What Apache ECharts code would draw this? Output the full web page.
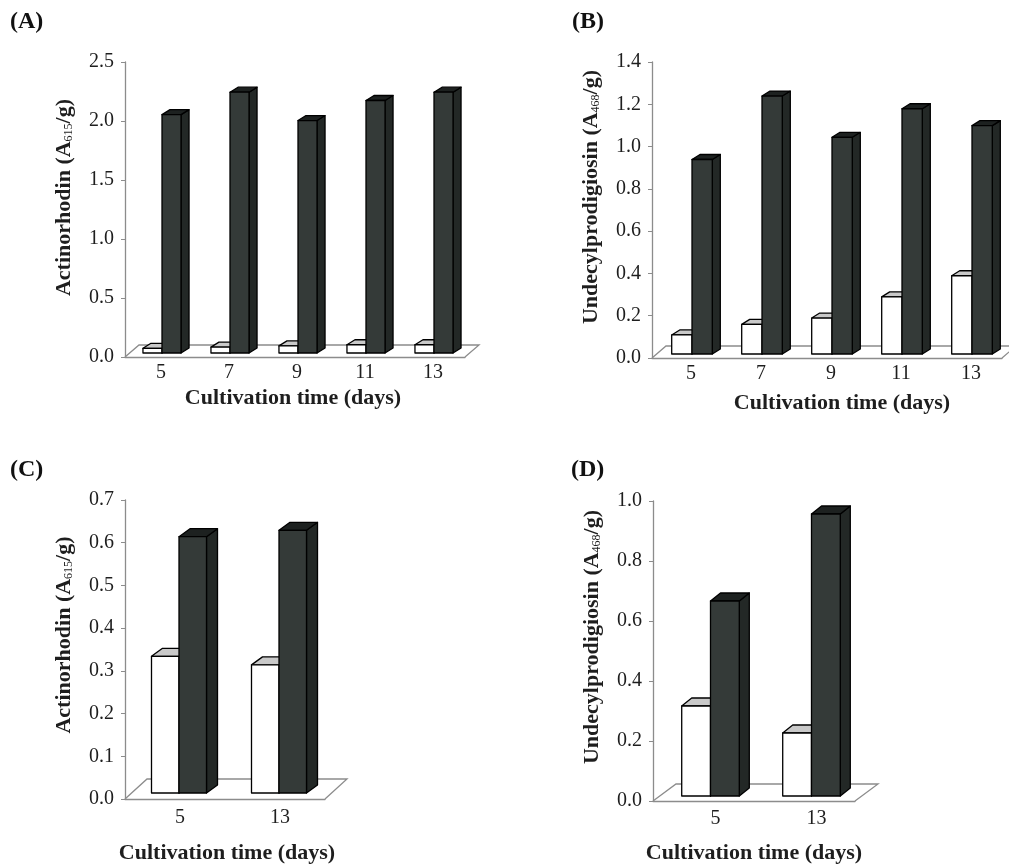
<!DOCTYPE html>
<html>
<head>
<meta charset="utf-8">
<script src="https://cdn.jsdelivr.net/npm/echarts@6/dist/echarts.min.js"></script>
<style>
  html, body { margin: 0; padding: 0; background: #fff; }
  #chart { width: 1009px; height: 866px; }
</style>
</head>
<body>
<div id="chart"></div>
<script>
// categories
const daysLong = ['5', '7', '9', '11', '13'];
const daysShort = ['5', '13'];

// (A) actinorhodin, A615/g
const actWhiteA = [0.04, 0.05, 0.06, 0.07, 0.07];
const actDarkA = [2.02, 2.21, 1.97, 2.14, 2.21];
// (B) undecylprodigiosin, A468/g
const undWhiteB = [0.09, 0.14, 0.17, 0.27, 0.37];
const undDarkB = [0.92, 1.22, 1.025, 1.16, 1.08];
// (C) actinorhodin
const actWhiteC = [0.32, 0.30];
const actDarkC = [0.60, 0.615];
// (D) undecylprodigiosin
const undWhiteD = [0.30, 0.21];
const undDarkD = [0.65, 0.94];

// y axis ranges
const yMax = [2.5, 1.4, 0.7, 1.0];
const yStep = [0.5, 0.2, 0.1, 0.2];

const SERIF = '"Liberation Serif", "DejaVu Serif", serif';
const AXIS_GRAY = '#8c8c8c';
const TEXT = '#1e1e1e';

// bars and labels sit a little right of the band centre, like the 3D projection of the original
const panels = [
  { tag: '(A)', cats: daysLong, white: actWhiteA, dark: actDarkA, name: ['Actinorhodin (A', '615', '/g)'],
    grid: { left: 125, top: 62, width: 340, height: 295 }, tagPos: [10, 10],
    floor: [14, -12], box: [8, -5], lift: 4, shift: 3, barW: 0.28,
    labelMargin: 6, labelPad: 4, xGap: 30, xPad: [0, 4, 0, 0], yPad: 24 },
  { tag: '(B)', cats: daysLong, white: undWhiteB, dark: undDarkB, name: ['Undecylprodigiosin (A', '468', '/g)'],
    grid: { left: 652, top: 62, width: 350, height: 296 }, tagPos: [572, 10],
    floor: [14, -12], box: [8, -5], lift: 4, shift: 5, barW: 0.29,
    labelMargin: 6, labelPad: 8, xGap: 34, xPad: [0, 0, 0, 30], yPad: 26 },
  { tag: '(C)', cats: daysShort, white: actWhiteC, dark: actDarkC, name: ['Actinorhodin (A', '615', '/g)'],
    grid: { left: 125, top: 500, width: 200, height: 299 }, tagPos: [10, 458],
    floor: [22, -20], box: [11, -8], lift: 6, shift: 4, barW: 0.275,
    labelMargin: 9, labelPad: 10, xGap: 43, xPad: [0, 0, 0, 4], yPad: 29 },
  { tag: '(D)', cats: daysShort, white: undWhiteD, dark: undDarkD, name: ['Undecylprodigiosin (A', '468', '/g)'],
    grid: { left: 653, top: 501, width: 202, height: 300 }, tagPos: [571, 458],
    floor: [23, -17], box: [10, -8], lift: 5, shift: 7, barW: 0.285,
    labelMargin: 8, labelPad: 24, xGap: 41, xPad: [0, 0, 0, 0], yPad: 28 }
];

function boxItem(p, colors, side) {
  return function (params, api) {
    const cat = api.value(0);
    const v = api.value(1);
    const base = api.coord([cat, 0]);
    const top = api.coord([cat, v]);
    const band = api.size([1, 0])[0];
    const w = band * p.barW;
    const x0 = base[0] + p.shift + (side === 'left' ? -w : 0);
    const x1 = x0 + w;
    const yb = base[1] - p.lift;
    const yt = top[1] - p.lift;
    const dx = p.box[0], dy = p.box[1];
    const line = { stroke: '#000', lineWidth: 1.3, lineJoin: 'round' };
    return {
      type: 'group',
      children: [
        { type: 'polygon', shape: { points: [[x1, yb], [x1 + dx, yb + dy], [x1 + dx, yt + dy], [x1, yt]] },
          style: Object.assign({ fill: colors.side }, line) },
        { type: 'polygon', shape: { points: [[x0, yt], [x0 + dx, yt + dy], [x1 + dx, yt + dy], [x1, yt]] },
          style: Object.assign({ fill: colors.top }, line) },
        { type: 'rect', shape: { x: x0, y: yt, width: w, height: yb - yt },
          style: Object.assign({ fill: colors.front }, line) }
      ]
    };
  };
}

function floorItem(p) {
  return function (params) {
    const cs = params.coordSys;
    const yb = cs.y + cs.height;
    const dx = p.floor[0], dy = p.floor[1];
    return {
      type: 'polyline',
      shape: { points: [[cs.x, yb], [cs.x + dx, yb + dy], [cs.x + cs.width + dx, yb + dy], [cs.x + cs.width, yb]] },
      style: { stroke: AXIS_GRAY, lineWidth: 1.3, fill: null }
    };
  };
}

const WHITE = { front: '#ffffff', top: '#c9c9c9', side: '#e6e6e6' };
const DARK = { front: '#343a38', top: '#1d2120', side: '#232826' };

const option = {
  backgroundColor: '#fff',
  animation: false,
  title: panels.map(p => ({
    text: p.tag, left: p.tagPos[0], top: p.tagPos[1], padding: 0,
    textStyle: { fontFamily: SERIF, fontWeight: 'bold', fontSize: 24, color: '#111' }
  })),
  grid: panels.map(p => Object.assign({}, p.grid)),
  xAxis: panels.map((p, i) => ({
    type: 'category', gridIndex: i, data: p.cats,
    axisLine: { lineStyle: { color: AXIS_GRAY, width: 1.3 } },
    axisTick: { inside: true, length: 5, lineStyle: { color: AXIS_GRAY } },
    axisLabel: { fontFamily: SERIF, fontSize: 20, color: TEXT, margin: p.labelMargin, padding: [0, 0, 0, p.labelPad] },
    name: 'Cultivation time (days)', nameLocation: 'middle', nameGap: p.xGap,
    nameTextStyle: { fontFamily: SERIF, fontWeight: 'bold', fontSize: 22, color: TEXT, padding: p.xPad }
  })),
  yAxis: panels.map((p, i) => ({
    type: 'value', gridIndex: i, min: 0, max: yMax[i], interval: yStep[i],
    splitLine: { show: false },
    axisLine: { show: true, lineStyle: { color: AXIS_GRAY, width: 1.3 } },
    axisTick: { show: true, length: 4, lineStyle: { color: AXIS_GRAY } },
    axisLabel: { fontFamily: SERIF, fontSize: 20, color: TEXT, margin: 11, formatter: v => v.toFixed(1) },
    name: '{n|' + p.name[0] + '}{s|' + p.name[1] + '}{n|' + p.name[2] + '}',
    nameLocation: 'middle', nameGap: 50,
    nameTextStyle: {
      padding: [0, 0, 0, p.yPad],
      rich: {
        n: { fontFamily: SERIF, fontWeight: 'bold', fontSize: 22, color: TEXT },
        s: { fontFamily: SERIF, fontSize: 12, color: TEXT, verticalAlign: 'bottom', padding: [7, 0, 0, 0] }
      }
    }
  })),
  series: panels.flatMap((p, i) => [
    { type: 'custom', xAxisIndex: i, yAxisIndex: i, z: 1, clip: false, silent: true,
      renderItem: floorItem(p), data: [[0, 0]] },
    { type: 'custom', xAxisIndex: i, yAxisIndex: i, z: 2, clip: false,
      renderItem: boxItem(p, WHITE, 'left'), data: p.white.map((v, j) => [j, v]) },
    { type: 'custom', xAxisIndex: i, yAxisIndex: i, z: 3, clip: false,
      renderItem: boxItem(p, DARK, 'right'), data: p.dark.map((v, j) => [j, v]) }
  ])
};

const chart = echarts.init(document.getElementById('chart'), null, { renderer: 'canvas' });
chart.setOption(option);
</script>
</body>
</html>
